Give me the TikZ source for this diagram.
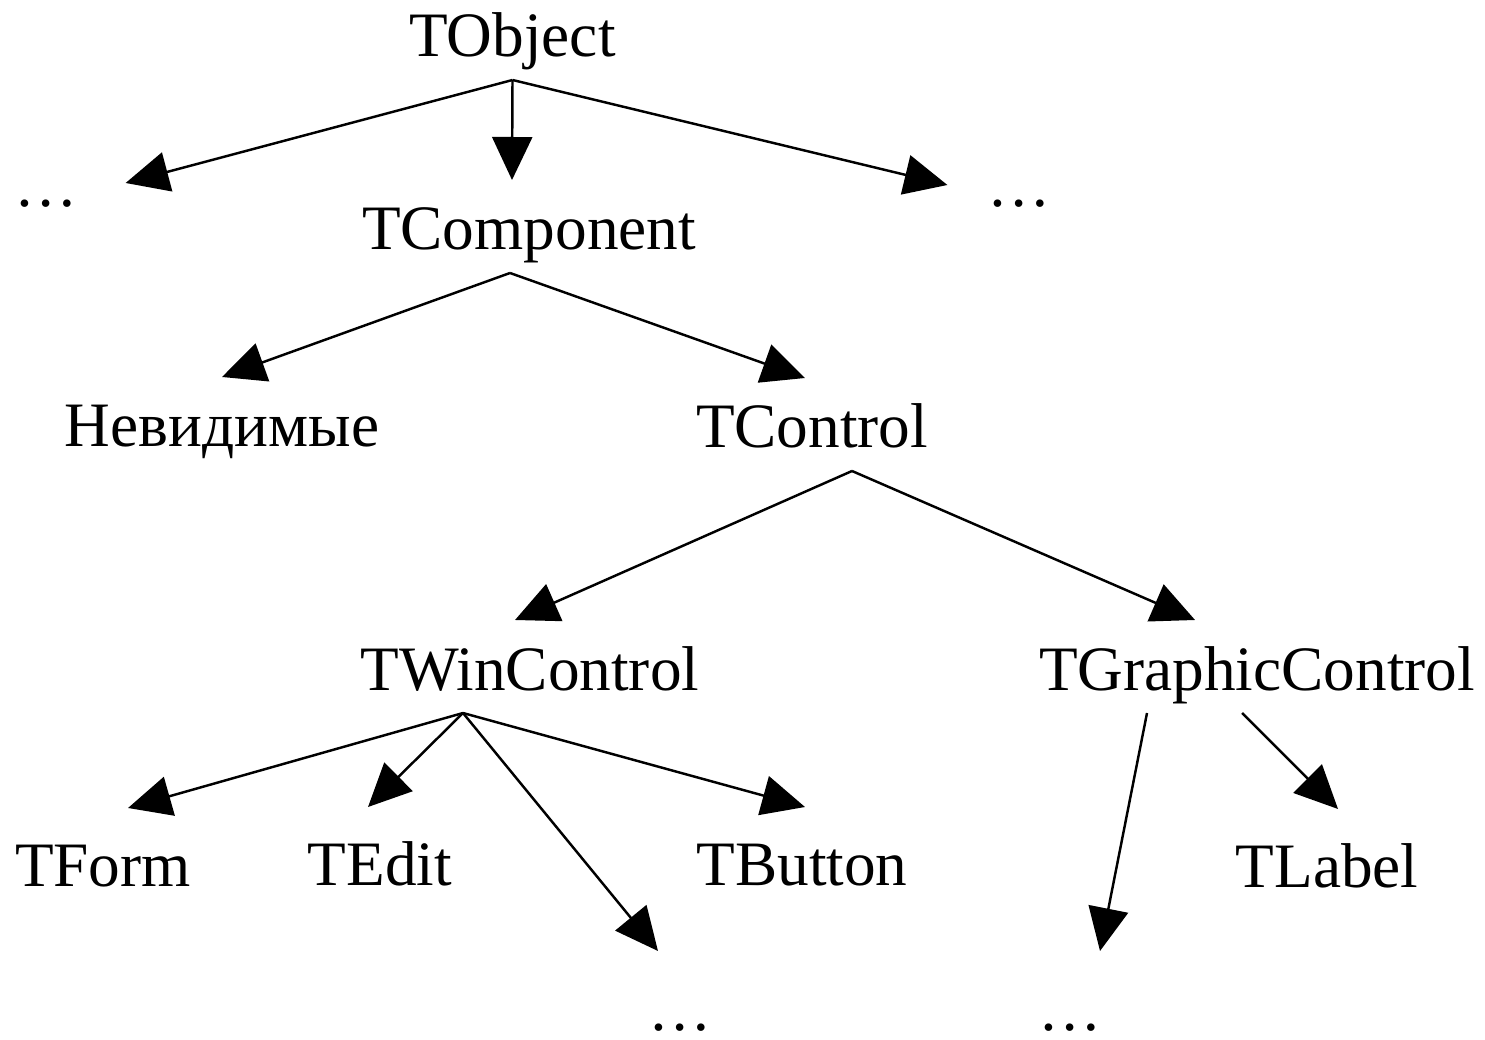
\documentclass[tikz,border=0pt]{standalone}
\usepackage{fontspec}
\setmainfont{Liberation Serif}
\usetikzlibrary{arrows.meta, positioning}
\tikzset{
  base/.style = {
    inner sep=0pt, outer sep=0pt, anchor=base,
    font=\fontsize{18}{21}\selectfont,
    text height=0.70cm, text depth=0.23cm
  },
  cls/.style = {
    base
  },
  leaf/.style = {
    base, text height=0.78cm
  },
  more/.style = {
    leaf, text depth=0pt
  },
  arrow/.style = {
    line width=0.7pt, -{Triangle[length=4.3mm, width=4mm]}
  }
}
\begin{document}
\begin{tikzpicture}
  \useasboundingbox (0,0) rectangle (14.85,10.39);

  % First row
  \node[cls] (tobject) at (5.125,9.82) {TObject};

  % Second row
  \node[more] (dotsL) at (0.46,8.32) {…};
  \node[cls] (tcomponent) at (5.29,7.89) {TComponent};
  \node[more] (dotsR) at (10.19,8.32) {…};

  % Third row
  \node[cls] (invisible) at (2.22,5.92) {Невидимые};
  \node[cls] (tcontrol) at (8.12,5.91) {TControl};

  % Fourth row
  \node[cls] (twincontrol) at (5.30,3.49) {TWinControl};
  \node[cls] (tgraphic) at (12.57,3.49) {TGraphicControl};

  % Fifth row
  \node[leaf] (tform) at (1.03,1.53) {TForm};
  \node[leaf] (tedit) at (3.80,1.54) {TEdit};
  \node[leaf] (tbutton) at (8.02,1.54) {TButton};
  \node[leaf] (tlabel) at (13.27,1.52) {TLabel};

  % Last row
  \node[more] (dotsBL) at (6.80,0.09) {…};
  \node[more] (dotsBR) at (10.70,0.09) {…};

  % Arrows from TObject
  \draw[arrow] (tobject.south) -- ([xshift=0.48cm, yshift=-0.15cm]dotsL.east);
  \draw[arrow] (tobject.south) -- ([xshift=-0.17cm]tcomponent.north);
  \draw[arrow] (tobject.south) -- ([xshift=-0.40cm, yshift=-0.17cm]dotsR.west);

  % Arrows from TComponent
  \draw[arrow] ([xshift=-0.19cm]tcomponent.south) -- (invisible.north);
  \draw[arrow] ([xshift=-0.19cm]tcomponent.south) -- ([xshift=-0.07cm]tcontrol.north);

  % Arrows from TControl
  \draw[arrow] ([xshift=0.40cm]tcontrol.south) -- ([xshift=-0.15cm]twincontrol.north);
  \draw[arrow] ([xshift=0.40cm]tcontrol.south) -- ([xshift=-0.62cm]tgraphic.north);

  % Arrows from TWinControl
  \draw[arrow] ([xshift=-0.67cm]twincontrol.south) -- ([xshift=0.25cm]tform.north);
  \draw[arrow] ([xshift=-0.67cm]twincontrol.south) -- ([xshift=-0.12cm]tedit.north);
  \draw[arrow] ([xshift=-0.67cm]twincontrol.south) -- ([xshift=-0.22cm, yshift=0.01cm]dotsBL.north);
  \draw[arrow] ([xshift=-0.67cm]twincontrol.south) -- ([xshift=0.03cm]tbutton.north);

  % Arrows from TGraphicControl
  \draw[arrow] ([xshift=-1.10cm]tgraphic.south) -- ([xshift=0.30cm, yshift=0.01cm]dotsBR.north);
  \draw[arrow] ([xshift=-0.15cm]tgraphic.south) -- ([xshift=0.11cm]tlabel.north);

\end{tikzpicture}
\end{document}
